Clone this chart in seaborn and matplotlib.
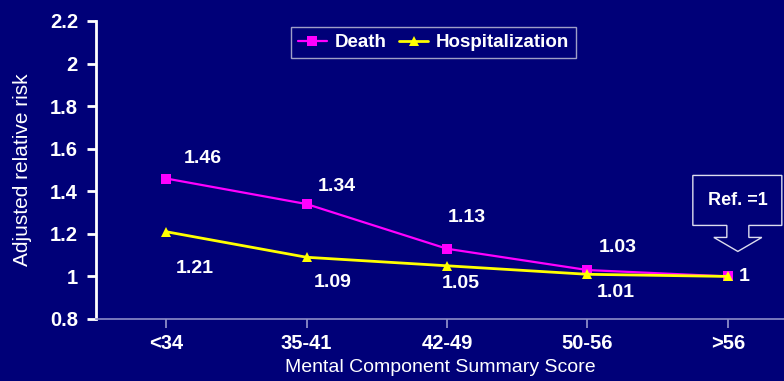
import matplotlib
matplotlib.use("Agg")
import matplotlib.pyplot as plt
import matplotlib.transforms as mtransforms
from matplotlib.patches import Polygon
import pandas as pd
import seaborn as sns

# ---- data -------------------------------------------------------------
categories = ["<34", "35-41", "42-49", "50-56", ">56"]
death = [1.46, 1.34, 1.13, 1.03, 1.00]
hospitalization = [1.21, 1.09, 1.05, 1.01, 1.00]
death_labels = ["1.46", "1.34", "1.13", "1.03", "1"]
hosp_labels = ["1.21", "1.09", "1.05", "1.01", None]
y_ticks = [0.8, 1.0, 1.2, 1.4, 1.6, 1.8, 2.0, 2.2]
y_tick_labels = ["0.8", "1", "1.2", "1.4", "1.6", "1.8", "2", "2.2"]

# label offsets in pixels (right, up) from each marker
death_offsets = [(37, 20), (30, 18), (20, 31), (30, 23), (16, 0)]
hosp_offsets = [(29, -37), (26, -25), (14, -18), (28, -18), None]

BG = "#000078"
MAGENTA = "#FF00FF"
YELLOW = "#FFFF00"
WHITE = "#FFFFFF"
AXIS = "#8C8CC8"

sns.set_theme(style="white")
plt.rcParams["font.family"] = ["Liberation Sans", "DejaVu Sans"]

df = pd.DataFrame({
    "score": categories * 2,
    "x": list(range(len(categories))) * 2,
    "risk": death + hospitalization,
    "outcome": ["Death"] * len(categories) + ["Hospitalization"] * len(categories),
})

fig = plt.figure(figsize=(7.84, 3.81), dpi=100, facecolor=BG)
ax = fig.add_axes([96 / 784, 62 / 381, 1 - 96 / 784, 298 / 381])
ax.set_facecolor(BG)

sns.lineplot(
    data=df, x="x", y="risk", hue="outcome", style="outcome",
    palette={"Death": MAGENTA, "Hospitalization": YELLOW},
    markers={"Death": "s", "Hospitalization": "^"},
    dashes=False, ax=ax, legend=False,
)
for line, ms, lw in zip(ax.lines, (7.5, 6.5), (1.6, 2.0)):
    line.set_markersize(ms)
    line.set_linewidth(lw)
    line.set_markeredgewidth(0)
ax.lines[1].set_zorder(3)

ax.set_xlim(-0.5, 4.4)
ax.set_ylim(0.8, 2.2)
ax.set_xticks(range(len(categories)))
ax.set_xticklabels(categories)
ax.set_yticks(y_ticks)
ax.set_yticklabels(y_tick_labels)

for s in ("top", "right"):
    ax.spines[s].set_visible(False)
ax.spines["left"].set_color(WHITE)
ax.spines["left"].set_linewidth(2)
ax.spines["bottom"].set_color(AXIS)
ax.spines["bottom"].set_linewidth(1.2)

ax.tick_params(axis="y", direction="out", length=6.5, width=2, color=WHITE,
               pad=6.5, labelsize=14.5, labelcolor=WHITE, left=True)
ax.tick_params(axis="x", direction="out", length=6.5, width=1.3, color=AXIS,
               pad=4.5, labelsize=14.5, labelcolor=WHITE, bottom=True)
for lab in ax.get_xticklabels() + ax.get_yticklabels():
    lab.set_fontweight("bold")

ax.set_xlabel("Mental Component Summary Score", color=WHITE, fontsize=14,
              labelpad=4)
ax.set_ylabel("Adjusted relative risk", color=WHITE, fontsize=15, labelpad=13)

# value labels
px = 72 / fig.dpi
for i, (v, lab, off) in enumerate(zip(death, death_labels, death_offsets)):
    ax.annotate(lab, (i, v), xytext=(off[0] * px, off[1] * px),
                textcoords="offset points", ha="center", va="center",
                color=WHITE, fontsize=14, fontweight="bold")
for i, (v, lab, off) in enumerate(zip(hospitalization, hosp_labels, hosp_offsets)):
    if lab is None:
        continue
    ax.annotate(lab, (i, v), xytext=(off[0] * px, off[1] * px),
                textcoords="offset points", ha="center", va="center",
                color=WHITE, fontsize=14, fontweight="bold")

# reference callout above the last category
fig.canvas.draw()
ref_x, ref_y = ax.transData.transform((len(categories) - 1, death[-1]))
callout = [(10, 25), (34, 39), (21, 39), (21, 51), (54, 51), (54, 101),
           (-35, 101), (-35, 51), (-1, 51), (-1, 39), (-14, 39)]
trans = mtransforms.Affine2D().translate(ref_x, ref_y)
ax.add_patch(Polygon(callout, closed=True, fill=False, edgecolor="#DDDDEE",
                     linewidth=1.0, transform=trans, clip_on=False))
ax.text(10, 76, "Ref. =1", transform=trans, ha="center", va="center",
        color=WHITE, fontsize=13, fontweight="bold")

# legend
handles = [
    plt.Line2D([], [], color=MAGENTA, marker="s", markersize=7.5, lw=1.6,
               markeredgewidth=0),
    plt.Line2D([], [], color=YELLOW, marker="^", markersize=6.5, lw=2.0,
               markeredgewidth=0),
]
leg = fig.legend(handles, ["Death", "Hospitalization"], ncol=2,
                 loc="upper center", bbox_to_anchor=(433.5 / 784, 1 - 18 / 381),
                 frameon=True, fancybox=False, facecolor=BG, edgecolor="#C8C8DC",
                 handlelength=1.55, handletextpad=0.4, columnspacing=0.7,
                 borderpad=0.35, prop={"size": 13.5, "weight": "bold"})
leg.get_frame().set_linewidth(1.0)
for t in leg.get_texts():
    t.set_color(WHITE)

fig.savefig("out.png", dpi=100, facecolor=BG)
